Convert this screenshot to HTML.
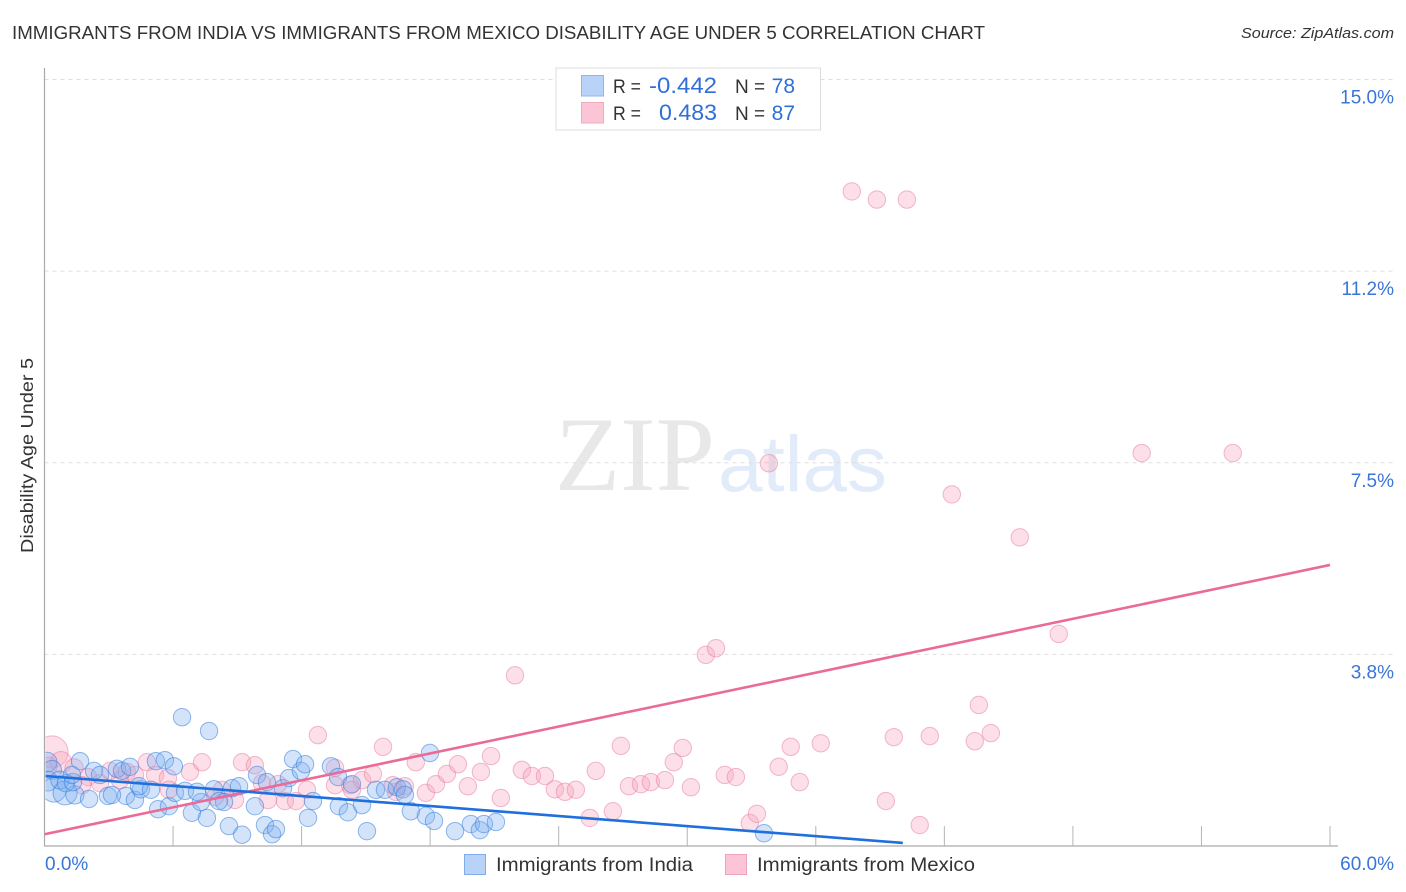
<!DOCTYPE html>
<html lang="en">
<head>
<meta charset="utf-8">
<title>Immigrants from India vs Immigrants from Mexico Disability Age Under 5 Correlation Chart</title>
<style>
html,body{margin:0;padding:0;background:#fff;}
svg{display:block;font-family:"Liberation Sans",sans-serif;}
</style>
</head>
<body>
<svg id="chart" xmlns="http://www.w3.org/2000/svg" width="1406" height="892" viewBox="0 0 1406 892">
  <defs>
    <clipPath id="plot-clip"><rect x="45.5" y="60" width="1300" height="786"></rect></clipPath>
  </defs>
  <text x="12" y="39" font-size="18.5" fill="#333" textLength="973" lengthAdjust="spacingAndGlyphs">IMMIGRANTS FROM INDIA VS IMMIGRANTS FROM MEXICO DISABILITY AGE UNDER 5 CORRELATION CHART</text>
  <text x="1241" y="38" font-size="15" font-style="italic" fill="#333" textLength="153" lengthAdjust="spacingAndGlyphs">Source: ZipAtlas.com</text>

  <g>
    <text x="555" y="490" font-family="'Liberation Serif',serif" font-size="106" fill="#e8e8e8" textLength="160" lengthAdjust="spacingAndGlyphs">ZIP</text>
    <text x="718" y="491" font-size="79" fill="#e2ebf9" textLength="169" lengthAdjust="spacingAndGlyphs">atlas</text>
  </g>

  <g id="grid"></g>
  <g id="axes"></g>
  <g id="points" clip-path="url(#plot-clip)"></g>
  <g id="trends"></g>
  <g id="labels"></g>

  <text transform="translate(33,455.5) rotate(-90)" text-anchor="middle" font-size="17.5" fill="#333" textLength="195" lengthAdjust="spacingAndGlyphs">Disability Age Under 5</text>

  <g>
    <rect x="556" y="68" width="264.5" height="62" fill="#fff" stroke="#dcdcdc" stroke-width="1"></rect>
    <rect x="581.5" y="75.5" width="22" height="20.5" fill="#b9d3f8" stroke="#8db6ee"></rect>
    <rect x="581.5" y="102.5" width="22" height="20.5" fill="#fcc5d6" stroke="#f3a9c1"></rect>
    <text x="613" y="93" font-size="19" fill="#333" textLength="28" lengthAdjust="spacingAndGlyphs">R =</text>
    <text x="717" y="93" font-size="22" fill="#2f6fd6" text-anchor="end" textLength="68" lengthAdjust="spacingAndGlyphs">-0.442</text>
    <text x="735" y="93" font-size="19" fill="#333">N =</text>
    <text x="795" y="93" font-size="21" fill="#2f6fd6" text-anchor="end">78</text>
    <text x="613" y="120" font-size="19" fill="#333" textLength="28" lengthAdjust="spacingAndGlyphs">R =</text>
    <text x="717" y="120" font-size="22" fill="#2f6fd6" text-anchor="end" textLength="58" lengthAdjust="spacingAndGlyphs">0.483</text>
    <text x="735" y="120" font-size="19" fill="#333">N =</text>
    <text x="795" y="120" font-size="21" fill="#2f6fd6" text-anchor="end">87</text>
  </g>

  <g>
    <rect x="464.5" y="854.5" width="21" height="20" fill="#b9d3f8" stroke="#7fade9"></rect>
    <text x="496" y="871" font-size="19" fill="#333" textLength="197" lengthAdjust="spacingAndGlyphs">Immigrants from India</text>
    <rect x="725.5" y="854.5" width="21" height="20" fill="#fcc5d6" stroke="#f0a3bd"></rect>
    <text x="757" y="871" font-size="19" fill="#333" textLength="218" lengthAdjust="spacingAndGlyphs">Immigrants from Mexico</text>
  </g>
</svg>
<script>
const xTicks = [0,6,12,18,24,30,36,42,48,54,60];
const yTicks = [3.75,7.5,11.25,15.0];
const xTickLabels = ["0.0%","60.0%"];
const yTickLabels = ["3.8%","7.5%","11.2%","15.0%"];

const indiaX = [0.12,0.35,0.16,0.44,0.96,0.72,1.42,1.0,1.66,1.33,1.28,2.31,2.59,2.08,2.96,3.38,3.62,3.80,4.22,3.15,3.99,4.50,4.41,4.97,5.2,5.62,5.30,5.81,6.09,6.04,6.56,6.42,7.68,6.88,7.58,7.30,7.12,7.91,8.38,8.14,8.61,9.22,8.75,9.08,9.82,9.92,10.29,10.62,10.80,10.38,11.13,11.41,11.60,11.97,12.16,12.30,12.53,13.37,13.74,13.70,14.16,14.35,14.82,15.05,15.47,15.89,16.45,16.73,16.82,17.10,17.80,18.18,17.99,19.16,19.90,20.32,20.51,21.07,33.58];
const indiaY = [1.64,1.49,1.27,1.10,1.04,1.29,1.00,1.23,1.66,1.25,1.39,1.47,1.39,0.92,0.98,1.51,1.47,0.98,0.90,1.0,1.55,1.11,1.17,1.10,1.66,1.68,0.72,0.78,1.04,1.56,1.08,2.52,2.25,0.65,0.55,0.86,1.06,1.11,0.86,0.88,0.39,0.22,1.13,1.17,0.78,1.39,0.41,0.23,0.33,1.25,1.13,1.33,1.70,1.47,1.60,0.55,0.88,1.56,0.78,1.35,0.66,1.21,0.80,0.29,1.10,1.10,1.15,1.11,1.0,0.68,0.59,0.49,1.82,0.29,0.43,0.31,0.43,0.47,0.25];
const indiaWeights = [1.3,1.2,1.3,2.0,1.9,1.1,1.1];

const mexicoX = [0.35,0.77,0.16,1.38,2.03,1.75,2.59,3.06,3.52,3.85,4.22,4.78,5.16,5.76,5.81,6.79,7.35,8.28,7.96,8.89,9.22,9.82,10.15,10.43,11.22,11.74,10.90,12.25,12.76,13.56,13.56,14.26,14.35,14.82,15.33,15.80,16.40,16.26,16.82,17.33,17.80,18.27,18.78,19.30,19.76,20.37,20.84,21.30,21.96,22.28,22.75,23.36,23.82,24.29,24.80,25.45,25.73,26.53,26.90,27.28,27.84,28.30,28.96,29.37,29.79,30.17,30.87,31.34,31.75,32.27,32.92,33.25,33.81,34.27,34.83,35.25,36.23,37.68,38.85,40.25,39.27,39.64,40.85,41.32,42.35,43.42,43.61,44.17,45.52,47.34,51.21,55.46];
const mexicoY = [1.84,1.64,1.56,1.53,1.35,1.19,1.23,1.47,1.29,1.45,1.39,1.64,1.39,1.33,1.10,1.45,1.64,1.10,0.96,0.90,1.64,1.58,1.23,0.90,0.88,0.88,1.21,1.10,2.17,1.53,1.19,1.19,1.10,1.29,1.41,1.94,1.06,1.19,1.17,1.64,1.04,1.21,1.41,1.60,1.17,1.45,1.76,0.94,3.34,1.49,1.37,1.37,1.11,1.06,1.10,0.55,1.47,0.68,1.96,1.17,1.21,1.25,1.29,1.64,1.92,1.15,3.74,3.87,1.39,1.35,0.45,0.63,7.49,1.55,1.94,1.25,2.01,12.81,12.65,12.65,0.88,2.13,0.41,2.15,6.88,2.05,2.76,2.21,6.04,4.15,7.69,7.69];
const mexicoWeights = [3.4,1.5,1.1,1.1];

const indiaTrendX = [0.05,40.06];
const indiaTrendY = [1.37,0.06];
const mexicoTrendX = [0,60];
const mexicoTrendY = [0.23,5.50];

const NS = 'http://www.w3.org/2000/svg';
function xScale(v){ return 44.5 + v * (1330 - 44.5) / 60; }
function yScale(v){ return 846 - v * (846 - 79.5) / 15; }
function make(tag, attrs, parent){
  const el = document.createElementNS(NS, tag);
  for (const k in attrs) el.setAttribute(k, attrs[k]);
  parent.appendChild(el);
  return el;
}

const grid = document.getElementById('grid');
yTicks.forEach(function(t){
  const line = make('line', {x1:44.5, x2:1394, y1:yScale(t), y2:yScale(t), stroke:'#dedede', 'stroke-width':1, 'stroke-dasharray':'4 4'}, grid);
  
  
});

const axes = document.getElementById('axes');
const yAxis = make('line', {x1:44.5, x2:44.5, y1:68, y2:846.5, stroke:'#aaa', 'stroke-width':1.2}, axes);


const xAxis = make('line', {x1:44, x2:1338, y1:846, y2:846, stroke:'#aaa', 'stroke-width':1.2}, axes);


xTicks.forEach(function(t){
  if (t === 0) return;
  const tick = make('line', {x1:xScale(t), x2:xScale(t), y1:826, y2:846, stroke:'#b5b5b5', 'stroke-width':1}, axes);
  
  
});

const pointsLayer = document.getElementById('points');
function drawSeries(xs, ys, weights, fill, stroke, name){
  xs.forEach(function(x, i){
    const w = weights[i] === undefined ? 1 : weights[i];
    const c = make('circle', {cx:xScale(x), cy:yScale(ys[i]), r:8.7 * Math.sqrt(w), fill:fill, stroke:stroke, 'stroke-width':1}, pointsLayer);
    
    
  });
}
drawSeries(mexicoX, mexicoY, mexicoWeights, 'rgba(247,165,190,0.36)', 'rgba(232,120,155,0.5)', 'mexico-point');
drawSeries(indiaX, indiaY, indiaWeights, 'rgba(125,175,240,0.34)', 'rgba(55,125,220,0.55)', 'india-point');

const trends = document.getElementById('trends');
const mexicoLine = make('line', {x1:xScale(mexicoTrendX[0]), y1:yScale(mexicoTrendY[0]), x2:xScale(mexicoTrendX[1]), y2:yScale(mexicoTrendY[1]), stroke:'#ea6a98', 'stroke-width':2.6}, trends);


const indiaLine = make('line', {x1:xScale(indiaTrendX[0]), y1:yScale(indiaTrendY[0]), x2:xScale(indiaTrendX[1]), y2:yScale(indiaTrendY[1]), stroke:'#1f6fdc', 'stroke-width':2.6}, trends);



const labels = document.getElementById('labels');
yTicks.forEach(function(t, i){
  const lab = make('text', {x:1394, y:yScale(t) + 24, 'text-anchor':'end', 'font-size':19, fill:'#3a75d8'}, labels);
  lab.textContent = yTickLabels[i];
  
  
});
const xLabLeft = make('text', {x:45, y:870, 'font-size':19, fill:'#3a75d8'}, labels);
xLabLeft.textContent = xTickLabels[0];


const xLabRight = make('text', {x:1394, y:870, 'text-anchor':'end', 'font-size':19, fill:'#3a75d8'}, labels);
xLabRight.textContent = xTickLabels[1];


</script>
</body>
</html>
